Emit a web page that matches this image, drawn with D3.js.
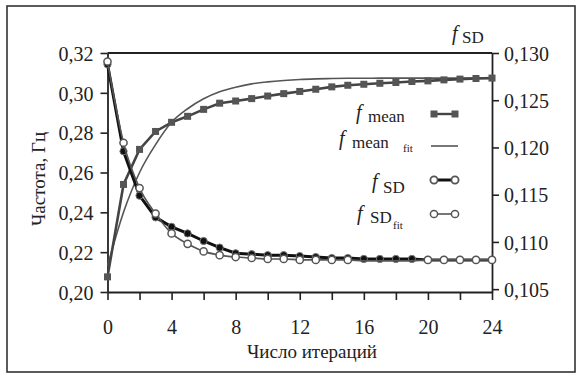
<!DOCTYPE html>
<html>
<head>
<meta charset="utf-8">
<script src="https://cdn.jsdelivr.net/npm/d3@7"></script>
<style>
  body { margin: 0; background: #fff; }
  svg text { fill: #222; }
</style>
</head>
<body>
<div id="chart"></div>
<script>
// iterations 0..24
const iterations = d3.range(0, 25);

// f_mean (left axis), measured
const fMean = [0.2076, 0.254, 0.2716, 0.2806, 0.2852, 0.2882, 0.2917, 0.2948, 0.2959, 0.2971,
  0.2984, 0.2996, 0.3007, 0.3018, 0.3030, 0.3038, 0.3043, 0.3048, 0.3052, 0.3057,
  0.3060, 0.3065, 0.3069, 0.3072, 0.3074];
// f_mean fit (left axis)
const fMeanFit = [0.213, 0.240, 0.260, 0.274, 0.2852, 0.292, 0.297, 0.3005, 0.3028, 0.3045,
  0.3055, 0.3062, 0.3067, 0.3070, 0.3072, 0.3073, 0.3073, 0.3074, 0.3074, 0.3074,
  0.3074, 0.3074, 0.3074, 0.3074, 0.3074];
// f_SD (right axis), measured
const fSD = [0.1288, 0.1196, 0.1149, 0.1126, 0.1116, 0.1109, 0.1101, 0.1094, 0.1088, 0.1087,
  0.1086, 0.1086, 0.1085, 0.1084, 0.1083, 0.1083, 0.1082, 0.1082, 0.1082, 0.1082,
  0.1081, 0.1081, 0.1081, 0.1081, 0.1081];
// f_SD fit (right axis)
const fSDFit = [0.1291, 0.1205, 0.1157, 0.1130, 0.1109, 0.1098, 0.1090, 0.1086, 0.1084, 0.1083,
  0.1082, 0.1082, 0.1081, 0.1081, 0.1081, 0.1081, 0.1080, 0.1080, 0.1080, 0.1080,
  0.1081, 0.1081, 0.1081, 0.1081, 0.1081];

const xTicks = d3.range(0, 25, 2);
const leftTicks = [0.20, 0.22, 0.24, 0.26, 0.28, 0.30, 0.32];
const rightTicks = [0.105, 0.110, 0.115, 0.120, 0.125, 0.130];

const W = 580, H = 376;
const serif = "Liberation Serif, LiberationSerif, DejaVu Serif, Tinos, Times New Roman, Times, Nimbus Roman, FreeSerif, Noto Serif, serif";
const svg = d3.select("#chart").append("svg").attr("width", W).attr("height", H)
  .attr("font-family", serif);

// outer frame
svg.append("rect").attr("x", 7).attr("y", 6).attr("width", 568).attr("height", 366)
  .attr("fill", "none").attr("stroke", "#333").attr("stroke-width", 1.6);

const pL = 107.5, pR = 492, pT = 53, pB = 292;
const x = d3.scaleLinear().domain([0, 24]).range([pL, pR]);
const yL = d3.scaleLinear().domain([0.20, 0.32]).range([pB, pT]);
const yR = d3.scaleLinear().domain([0.1047, 0.130]).range([pB, pT]);

const comma = f => v => d3.format(f)(v).replace(".", ",");

// top border of plot box
svg.append("line").attr("x1", pL).attr("x2", pR).attr("y1", pT).attr("y2", pT)
  .attr("stroke", "#222").attr("stroke-width", 1.8);

const axL = svg.append("g").attr("transform", `translate(${pL},0)`)
  .call(d3.axisLeft(yL).tickValues(leftTicks).tickSize(7).tickSizeOuter(0).tickPadding(7).tickFormat(comma(".2f")));
const axR = svg.append("g").attr("transform", `translate(${pR},0)`)
  .call(d3.axisRight(yR).tickValues(rightTicks).tickSize(7).tickSizeOuter(0).tickPadding(5).tickFormat(comma(".3f")));
const axX = svg.append("g").attr("transform", `translate(0,${pB})`)
  .call(d3.axisBottom(x).tickValues(xTicks).tickSize(8).tickSizeOuter(0).tickPadding(20)
    .tickFormat(d => d % 4 === 0 ? d : ""));

[axL, axR, axX].forEach(a => {
  a.attr("font-family", serif).attr("font-size", 20);
  a.select(".domain").attr("stroke", "#222").attr("stroke-width", 1.8);
  a.selectAll(".tick line").attr("stroke", "#222").attr("stroke-width", 1.6);
  a.selectAll(".tick text").attr("fill", "#222");
});
axL.selectAll(".tick text").attr("dy", "0.36em");
axR.selectAll(".tick text").attr("dy", "0.36em");

// f_mean fit (smooth thin line)
svg.append("path").datum(iterations)
  .attr("d", d3.line().x(i => x(i)).y(i => yL(fMeanFit[i])).curve(d3.curveMonotoneX))
  .attr("fill", "none").attr("stroke", "#555").attr("stroke-width", 1.6);

// f_mean data
svg.append("path").datum(iterations)
  .attr("d", d3.line().x(i => x(i)).y(i => yL(fMean[i])))
  .attr("fill", "none").attr("stroke", "#444").attr("stroke-width", 2.6);
svg.append("g").selectAll("rect").data(iterations).join("rect")
  .attr("x", i => x(i) - 3.5).attr("y", i => yL(fMean[i]) - 3.5)
  .attr("width", 7).attr("height", 7).attr("fill", "#555");

// f_SD data
svg.append("path").datum(iterations)
  .attr("d", d3.line().x(i => x(i)).y(i => yR(fSD[i])))
  .attr("fill", "none").attr("stroke", "#111").attr("stroke-width", 3);
svg.append("g").selectAll("circle").data(iterations).join("circle")
  .attr("cx", i => x(i)).attr("cy", i => yR(fSD[i])).attr("r", 3.6)
  .attr("fill", "#111").attr("stroke", "#777").attr("stroke-width", 1);

// f_SD fit
svg.append("path").datum(iterations)
  .attr("d", d3.line().x(i => x(i)).y(i => yR(fSDFit[i])).curve(d3.curveMonotoneX))
  .attr("fill", "none").attr("stroke", "#555").attr("stroke-width", 1.6);
svg.append("g").selectAll("circle").data(iterations.filter(i => i < 16 || i > 19)).join("circle")
  .attr("cx", i => x(i)).attr("cy", i => yR(fSDFit[i])).attr("r", 3.6)
  .attr("fill", "#fff").attr("stroke", "#555").attr("stroke-width", 1.5);

// legend
const lg = svg.append("g");
function label(fx, fy, sub, sx, sy, fit, tx, ty) {
  lg.append("text").attr("x", fx).attr("y", fy).attr("font-size", 20).attr("font-style", "italic").text("f");
  lg.append("text").attr("x", sx).attr("y", sy).attr("font-size", 17).text(sub);
  if (fit) lg.append("text").attr("x", tx).attr("y", ty).attr("font-size", 11).text("fit");
}
label(356, 119, "mean", 368, 122, false);
label(339, 145, "mean", 352, 148, true, 403, 152);
label(372, 188, "SD", 383, 193, false);
label(357, 220, "SD", 370, 223, true, 393, 229);

// legend markers
lg.append("line").attr("x1", 434).attr("x2", 455).attr("y1", 114).attr("y2", 114)
  .attr("stroke", "#444").attr("stroke-width", 2.4);
[434, 455].forEach(cx => lg.append("rect").attr("x", cx - 3.5).attr("y", 110.5)
  .attr("width", 7).attr("height", 7).attr("fill", "#555"));
lg.append("line").attr("x1", 431).attr("x2", 458).attr("y1", 146).attr("y2", 146)
  .attr("stroke", "#555").attr("stroke-width", 1.6);
lg.append("line").attr("x1", 434).attr("x2", 455).attr("y1", 180).attr("y2", 180)
  .attr("stroke", "#111").attr("stroke-width", 3);
[434, 455].forEach(cx => lg.append("circle").attr("cx", cx).attr("cy", 180).attr("r", 3.6)
  .attr("fill", "#fff").attr("stroke", "#555").attr("stroke-width", 1.8));
lg.append("line").attr("x1", 434).attr("x2", 455).attr("y1", 214).attr("y2", 214)
  .attr("stroke", "#555").attr("stroke-width", 1.6);
[434, 455].forEach(cx => lg.append("circle").attr("cx", cx).attr("cy", 214).attr("r", 3.6)
  .attr("fill", "#fff").attr("stroke", "#555").attr("stroke-width", 1.5));

// right axis title
svg.append("text").attr("x", 452).attr("y", 40).attr("font-size", 20).attr("font-style", "italic").text("f");
svg.append("text").attr("x", 462).attr("y", 43).attr("font-size", 17).text("SD");

// axis titles
svg.append("text").attr("x", 312).attr("y", 358).attr("text-anchor", "middle")
  .attr("font-size", 19).text("Число итераций");
svg.append("text").attr("transform", "rotate(-90)").attr("x", -179).attr("y", 45)
  .attr("text-anchor", "middle").attr("font-size", 19).text("Частота, Гц");
</script>
</body>
</html>
